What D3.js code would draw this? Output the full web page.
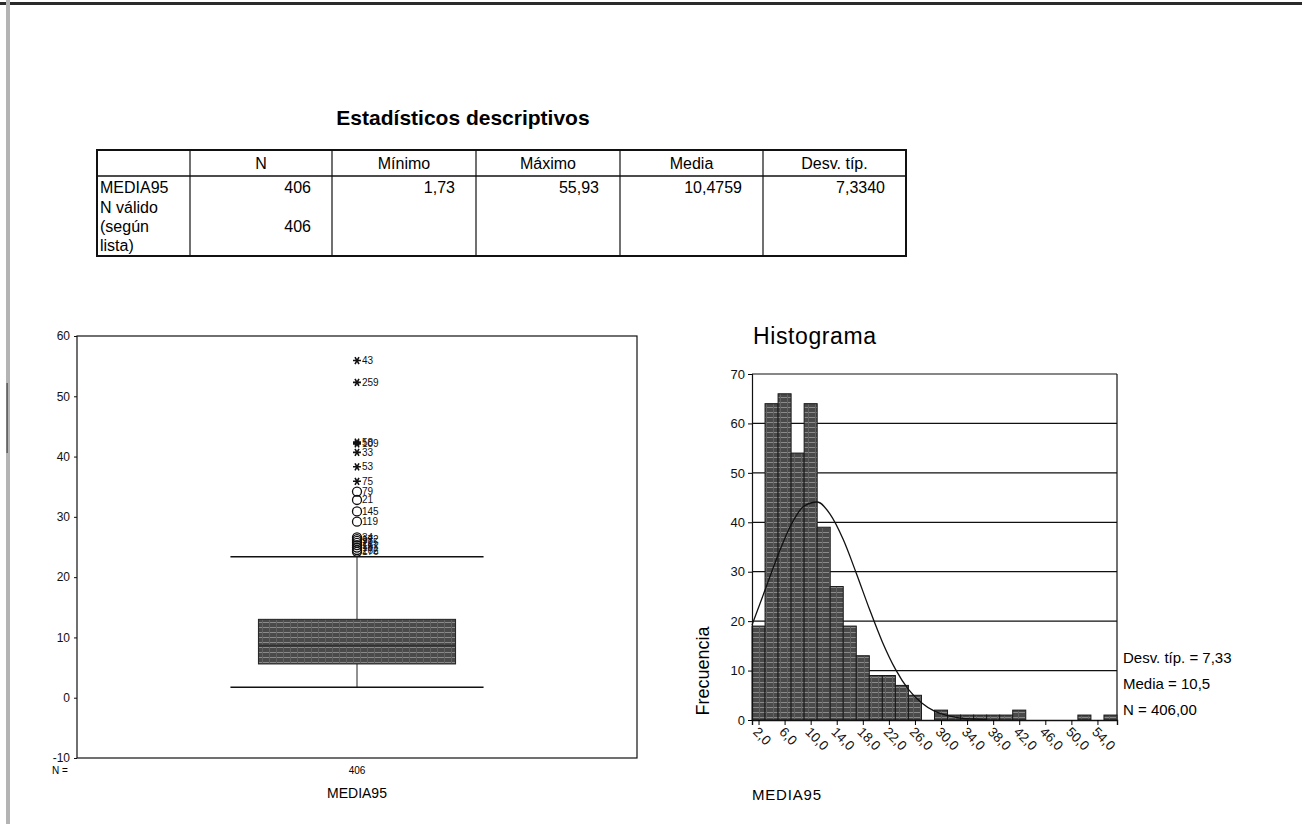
<!DOCTYPE html>
<html><head><meta charset="utf-8">
<script src="https://cdn.jsdelivr.net/npm/d3@7"></script>
<style>body{margin:0;background:#fff;} svg{display:block;font-family:Arial,"Liberation Sans",sans-serif;}</style>
</head><body><svg id="c" width="1302" height="824"></svg>
<script>
// ---------- data ----------
const tableTitle = "Estadísticos descriptivos";
const tableHeaders = ["", "N", "Mínimo", "Máximo", "Media", "Desv. típ."];
const tableRow1 = ["MEDIA95", "406", "1,73", "55,93", "10,4759", "7,3340"];
const tableRow2Label = ["N válido", "(según", "lista)"];
const tableRow2N = "406";

const boxCategory = ["MEDIA95"];
const boxN = ["406"];
const boxYTicks = [60, 50, 40, 30, 20, 10, 0, -10];
const boxFive = [1.73, 5.6, 8.6, 13.0, 23.4]; // lower whisker, Q1, median, Q3, upper whisker
const extremeValues = [55.93, 52.3, 42.4, 42.1, 40.7, 38.3, 35.9];
const extremeLabels = ["43", "259", "58", "109", "33", "53", "75"];
const outlierValues = [34.2, 32.8, 30.9, 29.2, 26.6, 26.3, 26.0, 25.7, 25.3, 24.9, 24.5, 24.2];
const outlierLabels = ["79", "21", "145", "119", "34", "172", "98", "215", "16", "181", "262", "176"];

const binCenters = [2,4,6,8,10,12,14,16,18,20,22,24,26,28,30,32,34,36,38,40,42,44,46,48,50,52,54,56];
const binCounts  = [19,64,66,54,64,39,27,19,13,9,9,7,5,0,2,1,1,1,1,1,2,0,0,0,0,1,0,1];
const histXTicks = [2,6,10,14,18,22,26,30,34,38,42,46,50,54];
const histXTickLabels = ["2,0","6,0","10,0","14,0","18,0","22,0","26,0","30,0","34,0","38,0","42,0","46,0","50,0","54,0"];
const histYTicks = [0,10,20,30,40,50,60,70];
const curveX = [1,3,5,7,9,11,13,15,17,19,21,23,25,27,29,31,33,35,37];
const curveY = [19.2,26.3,33.4,39.5,43.3,44.1,41.6,36.5,29.7,22.5,15.8,10.3,6.2,3.5,1.8,0.9,0.4,0.2,0.1];
const legendLines = ["Desv. típ. = 7,33", "Media = 10,5", "N = 406,00"];

// ---------- drawing ----------
const svg = d3.select("#c");
const defs = svg.append("defs");
const pat = defs.append("pattern").attr("id","tex").attr("patternUnits","userSpaceOnUse")
  .attr("width",7).attr("height",5);
pat.append("rect").attr("width",7).attr("height",5).attr("fill","#4a4a4a");
pat.append("rect").attr("y",2).attr("width",7).attr("height",1).attr("fill","#8a8a8a");
pat.append("rect").attr("x",3).attr("width",1).attr("height",5).attr("fill","#626262");

// page frame artifacts
svg.append("rect").attr("x",0).attr("y",2).attr("width",1302).attr("height",3).attr("fill","#2a2a2a");
svg.append("rect").attr("x",6).attr("y",0).attr("width",4).attr("height",824).attr("fill","#b4b4b4");
svg.append("rect").attr("x",6.5).attr("y",383).attr("width",1.2).attr("height",70).attr("fill","#444");

// ---------- table ----------
svg.append("text").attr("x",463).attr("y",125).attr("text-anchor","middle")
  .attr("font-size",21).attr("font-weight","bold").text(tableTitle);
const colX = [97,190,332,476,620,763,906];
const tTop = 150, tHead = 176, tBot = 256;
const tg = svg.append("g");
tg.append("rect").attr("x",colX[0]).attr("y",tTop).attr("width",colX[6]-colX[0]).attr("height",tBot-tTop)
  .attr("fill","none").attr("stroke","#111").attr("stroke-width",2);
colX.slice(1,6).forEach(x=>tg.append("line").attr("x1",x).attr("x2",x).attr("y1",tTop).attr("y2",tBot).attr("stroke","#111").attr("stroke-width",1.2));
tg.append("line").attr("x1",colX[0]).attr("x2",colX[6]).attr("y1",tHead).attr("y2",tHead).attr("stroke","#111").attr("stroke-width",1.6);
tableHeaders.forEach((h,i)=>{ if(!h) return;
  tg.append("text").attr("x",(colX[i]+colX[i+1])/2).attr("y",169).attr("text-anchor","middle").attr("font-size",16).text(h);});
tableRow1.forEach((v,i)=>{
  if(i===0) tg.append("text").attr("x",colX[0]+3).attr("y",193).attr("font-size",16).text(v);
  else tg.append("text").attr("x",colX[i+1]-21).attr("y",193).attr("text-anchor","end").attr("font-size",16).text(v);
});
tableRow2Label.forEach((v,j)=>tg.append("text").attr("x",colX[0]+3).attr("y",213+j*19).attr("font-size",16).text(v));
tg.append("text").attr("x",colX[2]-21).attr("y",232).attr("text-anchor","end").attr("font-size",16).text(tableRow2N);

// ---------- boxplot ----------
const bL=77, bR=637, bT=336;
const yB = d3.scaleLinear().domain([-10,60]).range([758,bT]);
const bB = yB(-10);
const xB = d3.scaleBand().domain(boxCategory).range([bL,bR]);
const cx = xB(boxCategory[0]) + xB.bandwidth()/2;
const boxW = xB.bandwidth()*0.352, capW = xB.bandwidth()*0.226;
const bg = svg.append("g");
bg.append("rect").attr("x",bL).attr("y",bT).attr("width",bR-bL).attr("height",bB-bT).attr("fill","none").attr("stroke","#111").attr("stroke-width",1.2);
const yAx = bg.append("g").attr("transform",`translate(${bL},0)`)
  .call(d3.axisLeft(yB).tickValues(boxYTicks).tickSize(3).tickFormat(d=>String(d)));
yAx.select(".domain").remove();
yAx.selectAll("text").attr("font-size",12).attr("font-family","Arial").attr("fill","#111").attr("dx",-1);
yAx.selectAll("line").attr("stroke","#111");
// whiskers
bg.append("line").attr("x1",cx).attr("x2",cx).attr("y1",yB(boxFive[0])).attr("y2",yB(boxFive[1])).attr("stroke","#222");
bg.append("line").attr("x1",cx).attr("x2",cx).attr("y1",yB(boxFive[3])).attr("y2",yB(boxFive[4])).attr("stroke","#222");
[boxFive[0],boxFive[4]].forEach(v=>bg.append("line").attr("x1",cx-capW).attr("x2",cx+capW).attr("y1",yB(v)).attr("y2",yB(v)).attr("stroke","#111").attr("stroke-width",1.5));
bg.append("rect").attr("x",cx-boxW/2).attr("y",yB(boxFive[3])).attr("width",boxW).attr("height",yB(boxFive[1])-yB(boxFive[3]))
  .attr("fill","url(#tex)").attr("stroke","#222");
bg.append("line").attr("x1",cx-boxW/2).attr("x2",cx+boxW/2).attr("y1",yB(boxFive[2])).attr("y2",yB(boxFive[2])).attr("stroke","#333").attr("stroke-width",2);
// outliers (circles)
outlierValues.forEach((v,i)=>{
  bg.append("circle").attr("cx",cx).attr("cy",yB(v)).attr("r",4.5).attr("fill","none").attr("stroke","#111").attr("stroke-width",1.3);
  bg.append("text").attr("x",cx+5).attr("y",yB(v)+3.5).attr("font-size",10).attr("fill","#111").text(outlierLabels[i]);
});
// extremes (asterisks)
const star = "M-4,0H4M-2,-3.5L2,3.5M-2,3.5L2,-3.5";
extremeValues.forEach((v,i)=>{
  bg.append("path").attr("d",star).attr("transform",`translate(${cx},${yB(v)})`).attr("stroke","#111").attr("stroke-width",1.6);
  bg.append("text").attr("x",cx+5).attr("y",yB(v)+3.5).attr("font-size",10).attr("fill","#111").text(extremeLabels[i]);
});
bg.append("text").attr("x",52).attr("y",bB+16).attr("font-size",10).text("N =");
bg.append("text").attr("x",cx).attr("y",bB+16).attr("text-anchor","middle").attr("font-size",10).text(boxN[0]);
bg.append("text").attr("x",cx).attr("y",bB+40).attr("text-anchor","middle").attr("font-size",14).text(boxCategory[0]);

// ---------- histogram ----------
const hL=752, hR=1117, hT=374, hB=720;
const xH = d3.scaleLinear().domain([1,57]).range([hL,hR]);
const yH = d3.scaleLinear().domain([0,70]).range([hB,hT]);
const hg = svg.append("g");
hg.append("text").attr("x",753).attr("y",344).attr("font-size",23).attr("letter-spacing",0.6).text("Histograma");
histYTicks.filter(d=>d>0).forEach(d=>hg.append("line").attr("x1",hL).attr("x2",hR).attr("y1",yH(d)).attr("y2",yH(d)).attr("stroke","#111").attr("stroke-width",1.2));
hg.append("line").attr("x1",hR).attr("x2",hR).attr("y1",hT).attr("y2",hB).attr("stroke","#111").attr("stroke-width",1.2);
hg.selectAll("rect.bar").data(binCenters.map((c,i)=>({c,n:binCounts[i]})).filter(d=>d.n>0)).join("rect")
  .attr("class","bar").attr("x",d=>xH(d.c-1)).attr("width",d=>xH(d.c+1)-xH(d.c-1))
  .attr("y",d=>yH(d.n)).attr("height",d=>yH(0)-yH(d.n))
  .attr("fill","url(#tex)").attr("stroke","#1a1a1a").attr("stroke-width",1);
const line = d3.line().x((d,i)=>xH(curveX[i])).y(d=>yH(d)).curve(d3.curveMonotoneX);
hg.append("path").attr("d",line(curveY)).attr("fill","none").attr("stroke","#111").attr("stroke-width",1.3);
const hy = hg.append("g").attr("transform",`translate(${hL},0)`)
  .call(d3.axisLeft(yH).tickValues(histYTicks).tickSize(4));
hy.select(".domain").attr("stroke","#111").attr("stroke-width",1.2);
hy.selectAll("text").attr("font-size",13).attr("font-family","Arial").attr("fill","#111");
const hx = hg.append("g").attr("transform",`translate(0,${hB})`)
  .call(d3.axisBottom(xH).tickValues(histXTicks).tickSize(5).tickFormat((d,i)=>histXTickLabels[i]));
hx.select(".domain").attr("stroke","#111").attr("stroke-width",1.4);
hx.selectAll("text").attr("font-size",13.5).attr("font-family","Arial").attr("fill","#111")
  .attr("text-anchor","start").attr("transform","translate(3,3) rotate(45)").attr("dy","0.35em").attr("y",9).attr("x",0);
hg.append("text").attr("transform","translate(709,671) rotate(-90)").attr("text-anchor","middle").attr("font-size",18).text("Frecuencia");
hg.append("text").attr("x",752).attr("y",800).attr("font-size",15).attr("letter-spacing",0.8).text("MEDIA95");
legendLines.forEach((t,i)=>hg.append("text").attr("x",1123).attr("y",663+i*26).attr("font-size",15).text(t));
</script></body></html>
